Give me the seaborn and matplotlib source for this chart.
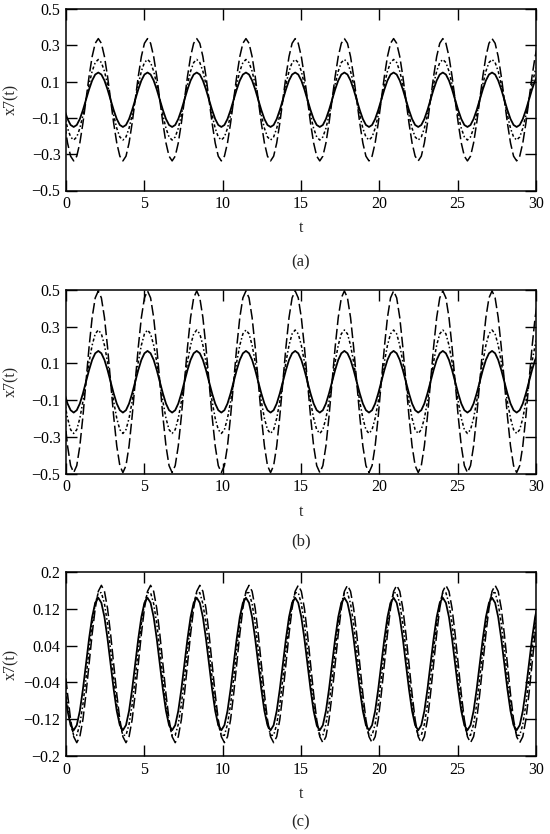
import numpy as np
import seaborn as sns
import matplotlib.pyplot as plt

# sample times (16 samples per period of the oscillation)
t = (np.arange(155) - 0.5) * np.pi / 16

# panel (a)
a_solid = [
    -0.057, -0.106, -0.139, -0.150, -0.139, -0.106, -0.057, 0.000, 0.057, 0.106, 0.139, 0.150, 0.139, 0.106, 0.057, 0.000,
    -0.057, -0.106, -0.139, -0.150, -0.139, -0.106, -0.057, 0.000, 0.057, 0.106, 0.139, 0.150, 0.139, 0.106, 0.057, 0.000,
    -0.057, -0.106, -0.139, -0.150, -0.139, -0.106, -0.057, 0.000, 0.057, 0.106, 0.139, 0.150, 0.139, 0.106, 0.057, 0.000,
    -0.057, -0.106, -0.139, -0.150, -0.139, -0.106, -0.057, 0.000, 0.057, 0.106, 0.139, 0.150, 0.139, 0.106, 0.057, 0.000,
    -0.057, -0.106, -0.139, -0.150, -0.139, -0.106, -0.057, 0.000, 0.057, 0.106, 0.139, 0.150, 0.139, 0.106, 0.057, 0.000,
    -0.057, -0.106, -0.139, -0.150, -0.139, -0.106, -0.057, 0.000, 0.057, 0.106, 0.139, 0.150, 0.139, 0.106, 0.057, 0.000,
    -0.057, -0.106, -0.139, -0.150, -0.139, -0.106, -0.057, 0.000, 0.057, 0.106, 0.139, 0.150, 0.139, 0.106, 0.057, 0.000,
    -0.057, -0.106, -0.139, -0.150, -0.139, -0.106, -0.057, 0.000, 0.057, 0.106, 0.139, 0.150, 0.139, 0.106, 0.057, 0.000,
    -0.057, -0.106, -0.139, -0.150, -0.139, -0.106, -0.057, 0.000, 0.057, 0.106, 0.139, 0.150, 0.139, 0.106, 0.057, 0.000,
    -0.057, -0.106, -0.139, -0.150, -0.139, -0.106, -0.057, 0.000, 0.057, 0.106, 0.139,
]
a_dotted = [
    -0.085, -0.157, -0.205, -0.222, -0.205, -0.157, -0.085, 0.000, 0.085, 0.157, 0.205, 0.222, 0.205, 0.157, 0.085, 0.000,
    -0.085, -0.157, -0.205, -0.222, -0.205, -0.157, -0.085, 0.000, 0.085, 0.157, 0.205, 0.222, 0.205, 0.157, 0.085, 0.000,
    -0.085, -0.157, -0.205, -0.222, -0.205, -0.157, -0.085, 0.000, 0.085, 0.157, 0.205, 0.222, 0.205, 0.157, 0.085, 0.000,
    -0.085, -0.157, -0.205, -0.222, -0.205, -0.157, -0.085, 0.000, 0.085, 0.157, 0.205, 0.222, 0.205, 0.157, 0.085, 0.000,
    -0.085, -0.157, -0.205, -0.222, -0.205, -0.157, -0.085, 0.000, 0.085, 0.157, 0.205, 0.222, 0.205, 0.157, 0.085, 0.000,
    -0.085, -0.157, -0.205, -0.222, -0.205, -0.157, -0.085, 0.000, 0.085, 0.157, 0.205, 0.222, 0.205, 0.157, 0.085, 0.000,
    -0.085, -0.157, -0.205, -0.222, -0.205, -0.157, -0.085, 0.000, 0.085, 0.157, 0.205, 0.222, 0.205, 0.157, 0.085, 0.000,
    -0.085, -0.157, -0.205, -0.222, -0.205, -0.157, -0.085, 0.000, 0.085, 0.157, 0.205, 0.222, 0.205, 0.157, 0.085, 0.000,
    -0.085, -0.157, -0.205, -0.222, -0.205, -0.157, -0.085, 0.000, 0.085, 0.157, 0.205, 0.222, 0.205, 0.157, 0.085, 0.000,
    -0.085, -0.157, -0.205, -0.222, -0.205, -0.157, -0.085, 0.000, 0.085, 0.157, 0.205,
]
a_dashed = [
    -0.129, -0.238, -0.311, -0.337, -0.311, -0.238, -0.129, 0.000, 0.129, 0.238, 0.311, 0.337, 0.311, 0.238, 0.129, 0.000,
    -0.129, -0.238, -0.311, -0.337, -0.311, -0.238, -0.129, 0.000, 0.129, 0.238, 0.311, 0.337, 0.311, 0.238, 0.129, 0.000,
    -0.129, -0.238, -0.311, -0.337, -0.311, -0.238, -0.129, 0.000, 0.129, 0.238, 0.311, 0.337, 0.311, 0.238, 0.129, 0.000,
    -0.129, -0.238, -0.311, -0.337, -0.311, -0.238, -0.129, 0.000, 0.129, 0.238, 0.311, 0.337, 0.311, 0.238, 0.129, 0.000,
    -0.129, -0.238, -0.311, -0.337, -0.311, -0.238, -0.129, 0.000, 0.129, 0.238, 0.311, 0.337, 0.311, 0.238, 0.129, 0.000,
    -0.129, -0.238, -0.311, -0.337, -0.311, -0.238, -0.129, 0.000, 0.129, 0.238, 0.311, 0.337, 0.311, 0.238, 0.129, 0.000,
    -0.129, -0.238, -0.311, -0.337, -0.311, -0.238, -0.129, 0.000, 0.129, 0.238, 0.311, 0.337, 0.311, 0.238, 0.129, 0.000,
    -0.129, -0.238, -0.311, -0.337, -0.311, -0.238, -0.129, 0.000, 0.129, 0.238, 0.311, 0.337, 0.311, 0.238, 0.129, 0.000,
    -0.129, -0.238, -0.311, -0.337, -0.311, -0.238, -0.129, 0.000, 0.129, 0.238, 0.311, 0.337, 0.311, 0.238, 0.129, 0.000,
    -0.129, -0.238, -0.311, -0.337, -0.311, -0.238, -0.129, 0.000, 0.129, 0.238, 0.311,
]

# panel (b)
b_solid = [
    -0.064, -0.119, -0.155, -0.168, -0.155, -0.119, -0.064, 0.000, 0.064, 0.119, 0.155, 0.168, 0.155, 0.119, 0.064, 0.000,
    -0.064, -0.119, -0.155, -0.168, -0.155, -0.119, -0.064, 0.000, 0.064, 0.119, 0.155, 0.168, 0.155, 0.119, 0.064, 0.000,
    -0.064, -0.119, -0.155, -0.168, -0.155, -0.119, -0.064, 0.000, 0.064, 0.119, 0.155, 0.168, 0.155, 0.119, 0.064, 0.000,
    -0.064, -0.119, -0.155, -0.168, -0.155, -0.119, -0.064, 0.000, 0.064, 0.119, 0.155, 0.168, 0.155, 0.119, 0.064, 0.000,
    -0.064, -0.119, -0.155, -0.168, -0.155, -0.119, -0.064, 0.000, 0.064, 0.119, 0.155, 0.168, 0.155, 0.119, 0.064, 0.000,
    -0.064, -0.119, -0.155, -0.168, -0.155, -0.119, -0.064, 0.000, 0.064, 0.119, 0.155, 0.168, 0.155, 0.119, 0.064, 0.000,
    -0.064, -0.119, -0.155, -0.168, -0.155, -0.119, -0.064, 0.000, 0.064, 0.119, 0.155, 0.168, 0.155, 0.119, 0.064, 0.000,
    -0.064, -0.119, -0.155, -0.168, -0.155, -0.119, -0.064, 0.000, 0.064, 0.119, 0.155, 0.168, 0.155, 0.119, 0.064, 0.000,
    -0.064, -0.119, -0.155, -0.168, -0.155, -0.119, -0.064, 0.000, 0.064, 0.119, 0.155, 0.168, 0.155, 0.119, 0.064, 0.000,
    -0.064, -0.119, -0.155, -0.168, -0.155, -0.119, -0.064, 0.000, 0.064, 0.119, 0.155,
]
b_dotted = [
    -0.108, -0.199, -0.261, -0.282, -0.261, -0.199, -0.108, 0.000, 0.108, 0.199, 0.261, 0.282, 0.261, 0.199, 0.108, 0.000,
    -0.108, -0.199, -0.261, -0.282, -0.261, -0.199, -0.108, 0.000, 0.108, 0.199, 0.261, 0.282, 0.261, 0.199, 0.108, 0.000,
    -0.108, -0.199, -0.261, -0.282, -0.261, -0.199, -0.108, 0.000, 0.108, 0.199, 0.261, 0.282, 0.261, 0.199, 0.108, 0.000,
    -0.108, -0.199, -0.261, -0.282, -0.261, -0.199, -0.108, 0.000, 0.108, 0.199, 0.261, 0.282, 0.261, 0.199, 0.108, 0.000,
    -0.108, -0.199, -0.261, -0.282, -0.261, -0.199, -0.108, 0.000, 0.108, 0.199, 0.261, 0.282, 0.261, 0.199, 0.108, 0.000,
    -0.108, -0.199, -0.261, -0.282, -0.261, -0.199, -0.108, 0.000, 0.108, 0.199, 0.261, 0.282, 0.261, 0.199, 0.108, 0.000,
    -0.108, -0.199, -0.261, -0.282, -0.261, -0.199, -0.108, 0.000, 0.108, 0.199, 0.261, 0.282, 0.261, 0.199, 0.108, 0.000,
    -0.108, -0.199, -0.261, -0.282, -0.261, -0.199, -0.108, 0.000, 0.108, 0.199, 0.261, 0.282, 0.261, 0.199, 0.108, 0.000,
    -0.108, -0.199, -0.261, -0.282, -0.261, -0.199, -0.108, 0.000, 0.108, 0.199, 0.261, 0.282, 0.261, 0.199, 0.108, 0.000,
    -0.108, -0.199, -0.261, -0.282, -0.261, -0.199, -0.108, 0.000, 0.108, 0.199, 0.261,
]
b_dashed = [
    -0.189, -0.350, -0.457, -0.495, -0.457, -0.350, -0.189, 0.000, 0.189, 0.350, 0.457, 0.495, 0.457, 0.350, 0.189, 0.000,
    -0.189, -0.350, -0.457, -0.495, -0.457, -0.350, -0.189, 0.000, 0.189, 0.350, 0.457, 0.495, 0.457, 0.350, 0.189, 0.000,
    -0.189, -0.350, -0.457, -0.495, -0.457, -0.350, -0.189, 0.000, 0.189, 0.350, 0.457, 0.495, 0.457, 0.350, 0.189, 0.000,
    -0.189, -0.350, -0.457, -0.495, -0.457, -0.350, -0.189, 0.000, 0.189, 0.350, 0.457, 0.495, 0.457, 0.350, 0.189, 0.000,
    -0.189, -0.350, -0.457, -0.495, -0.457, -0.350, -0.189, 0.000, 0.189, 0.350, 0.457, 0.495, 0.457, 0.350, 0.189, 0.000,
    -0.189, -0.350, -0.457, -0.495, -0.457, -0.350, -0.189, 0.000, 0.189, 0.350, 0.457, 0.495, 0.457, 0.350, 0.189, 0.000,
    -0.189, -0.350, -0.457, -0.495, -0.457, -0.350, -0.189, 0.000, 0.189, 0.350, 0.457, 0.495, 0.457, 0.350, 0.189, 0.000,
    -0.189, -0.350, -0.457, -0.495, -0.457, -0.350, -0.189, 0.000, 0.189, 0.350, 0.457, 0.495, 0.457, 0.350, 0.189, 0.000,
    -0.189, -0.350, -0.457, -0.495, -0.457, -0.350, -0.189, 0.000, 0.189, 0.350, 0.457, 0.495, 0.457, 0.350, 0.189, 0.000,
    -0.189, -0.350, -0.457, -0.495, -0.457, -0.350, -0.189, 0.000, 0.189, 0.350, 0.457,
]

# panel (c)
c_solid = [
    -0.055, -0.102, -0.133, -0.144, -0.133, -0.102, -0.055, 0.000, 0.055, 0.102, 0.133, 0.144, 0.133, 0.102, 0.055, 0.000,
    -0.055, -0.102, -0.133, -0.144, -0.133, -0.102, -0.055, 0.000, 0.055, 0.102, 0.133, 0.144, 0.133, 0.102, 0.055, 0.000,
    -0.055, -0.102, -0.133, -0.144, -0.133, -0.102, -0.055, 0.000, 0.055, 0.102, 0.133, 0.144, 0.133, 0.102, 0.055, 0.000,
    -0.055, -0.102, -0.133, -0.144, -0.133, -0.102, -0.055, 0.000, 0.055, 0.102, 0.133, 0.144, 0.133, 0.102, 0.055, 0.000,
    -0.055, -0.102, -0.133, -0.144, -0.133, -0.102, -0.055, 0.000, 0.055, 0.102, 0.133, 0.144, 0.133, 0.102, 0.055, 0.000,
    -0.055, -0.102, -0.133, -0.144, -0.133, -0.102, -0.055, 0.000, 0.055, 0.102, 0.133, 0.144, 0.133, 0.102, 0.055, 0.000,
    -0.055, -0.102, -0.133, -0.144, -0.133, -0.102, -0.055, 0.000, 0.055, 0.102, 0.133, 0.144, 0.133, 0.102, 0.055, 0.000,
    -0.055, -0.102, -0.133, -0.144, -0.133, -0.102, -0.055, 0.000, 0.055, 0.102, 0.133, 0.144, 0.133, 0.102, 0.055, 0.000,
    -0.055, -0.102, -0.133, -0.144, -0.133, -0.102, -0.055, 0.000, 0.055, 0.102, 0.133, 0.144, 0.133, 0.102, 0.055, 0.000,
    -0.055, -0.102, -0.133, -0.144, -0.133, -0.102, -0.055, 0.000, 0.055, 0.102, 0.133,
]
c_dotted = [
    -0.031, -0.088, -0.131, -0.155, -0.155, -0.131, -0.088, -0.031, 0.031, 0.088, 0.131, 0.155, 0.155, 0.131, 0.088, 0.031,
    -0.031, -0.088, -0.131, -0.155, -0.155, -0.131, -0.088, -0.031, 0.031, 0.088, 0.131, 0.155, 0.155, 0.131, 0.088, 0.031,
    -0.031, -0.088, -0.131, -0.155, -0.155, -0.131, -0.088, -0.031, 0.031, 0.088, 0.131, 0.155, 0.155, 0.131, 0.088, 0.031,
    -0.031, -0.088, -0.131, -0.155, -0.155, -0.131, -0.088, -0.031, 0.031, 0.088, 0.131, 0.155, 0.155, 0.131, 0.088, 0.031,
    -0.031, -0.088, -0.131, -0.155, -0.155, -0.131, -0.088, -0.031, 0.031, 0.088, 0.131, 0.155, 0.155, 0.131, 0.088, 0.031,
    -0.031, -0.088, -0.131, -0.155, -0.155, -0.131, -0.088, -0.031, 0.031, 0.088, 0.131, 0.155, 0.155, 0.131, 0.088, 0.031,
    -0.031, -0.088, -0.131, -0.155, -0.155, -0.131, -0.088, -0.031, 0.031, 0.088, 0.131, 0.155, 0.155, 0.131, 0.088, 0.031,
    -0.031, -0.088, -0.131, -0.155, -0.155, -0.131, -0.088, -0.031, 0.031, 0.088, 0.131, 0.155, 0.155, 0.131, 0.088, 0.031,
    -0.031, -0.088, -0.131, -0.155, -0.155, -0.131, -0.088, -0.031, 0.031, 0.088, 0.131, 0.155, 0.155, 0.131, 0.088, 0.031,
    -0.031, -0.088, -0.131, -0.155, -0.155, -0.131, -0.088, -0.031, 0.031, 0.088, 0.131,
]
c_dashed = [
    0.000, -0.065, -0.121, -0.158, -0.171, -0.158, -0.121, -0.065, 0.000, 0.065, 0.121, 0.158, 0.171, 0.158, 0.121, 0.065,
    0.000, -0.065, -0.121, -0.158, -0.171, -0.158, -0.121, -0.065, 0.000, 0.065, 0.121, 0.158, 0.171, 0.158, 0.121, 0.065,
    0.000, -0.065, -0.121, -0.158, -0.171, -0.158, -0.121, -0.065, 0.000, 0.065, 0.121, 0.158, 0.171, 0.158, 0.121, 0.065,
    0.000, -0.065, -0.121, -0.158, -0.171, -0.158, -0.121, -0.065, 0.000, 0.065, 0.121, 0.158, 0.171, 0.158, 0.121, 0.065,
    0.000, -0.065, -0.121, -0.158, -0.171, -0.158, -0.121, -0.065, 0.000, 0.065, 0.121, 0.158, 0.171, 0.158, 0.121, 0.065,
    0.000, -0.065, -0.121, -0.158, -0.171, -0.158, -0.121, -0.065, 0.000, 0.065, 0.121, 0.158, 0.171, 0.158, 0.121, 0.065,
    0.000, -0.065, -0.121, -0.158, -0.171, -0.158, -0.121, -0.065, 0.000, 0.065, 0.121, 0.158, 0.171, 0.158, 0.121, 0.065,
    0.000, -0.065, -0.121, -0.158, -0.171, -0.158, -0.121, -0.065, 0.000, 0.065, 0.121, 0.158, 0.171, 0.158, 0.121, 0.065,
    0.000, -0.065, -0.121, -0.158, -0.171, -0.158, -0.121, -0.065, 0.000, 0.065, 0.121, 0.158, 0.171, 0.158, 0.121, 0.065,
    0.000, -0.065, -0.121, -0.158, -0.171, -0.158, -0.121, -0.065, 0.000, 0.065, 0.121,
]

x_ticks = [0, 5, 10, 15, 20, 25, 30]
ab_yticks = [0.5, 0.3, 0.1, -0.1, -0.3, -0.5]
ab_ylabels = ['0.5', '0.3', '0.1', '\u22120.1', '\u22120.3', '\u22120.5']
c_yticks = [0.2, 0.12, 0.04, -0.04, -0.12, -0.2]
c_ylabels = ['0.2', '0.12', '0.04', '\u22120.04', '\u22120.12', '\u22120.2']

sns.set_style('ticks')
plt.rcParams['font.family'] = ['Liberation Serif', 'DejaVu Serif']
plt.rcParams['font.size'] = 11.5

fig = plt.figure(figsize=(5.5, 8.34), dpi=100)

# axes boxes in pixels: top and bottom edges of each panel
boxes = [(9, 190.5), (290, 473.5), (572, 756)]
captions = ['(a)', '(b)', '(c)']
caption_y = [262, 541, 822]
panels = [
    (a_solid, a_dotted, a_dashed, ab_yticks, ab_ylabels, (-0.5, 0.5)),
    (b_solid, b_dotted, b_dashed, ab_yticks, ab_ylabels, (-0.5, 0.5)),
    (c_solid, c_dotted, c_dashed, c_yticks, c_ylabels, (-0.2, 0.2)),
]

for (top, bot), cap, cy, (ys, yd, ydash, yt, yl, ylim) in zip(boxes, captions, caption_y, panels):
    ax = fig.add_axes([66 / 550, 1 - bot / 834, 470 / 550, (bot - top) / 834])
    sns.lineplot(x=t, y=ydash, ax=ax, color='black', linewidth=1.1, linestyle=(0, (7, 2.5)))
    sns.lineplot(x=t, y=yd, ax=ax, color='black', linewidth=1.1, linestyle=(0, (2, 1.5, 1, 1.5)))
    sns.lineplot(x=t, y=ys, ax=ax, color='black', linewidth=1.3)
    ax.set_xlim(0, 30)
    ax.set_ylim(*ylim)
    ax.set_xticks(x_ticks)
    ax.set_xticklabels([str(v) for v in x_ticks])
    ax.set_yticks(yt)
    ax.set_yticklabels(yl)
    ax.tick_params(direction='in', length=8, width=1, top=True, right=True,
                   labeltop=False, labelright=False, pad=4, colors='black')
    for sp in ax.spines.values():
        sp.set_linewidth(1.1)
        sp.set_color('black')
    ax.set_xlabel('t')
    ax.set_ylabel('x7(t)')
    ax.xaxis.set_label_coords(0.5, -0.165)
    ax.yaxis.set_label_coords(-0.1, 0.5)
    fig.text(301 / 550, 1 - cy / 834, cap, ha='center', va='center', fontsize=12)

plt.savefig('out.png', dpi=100)
